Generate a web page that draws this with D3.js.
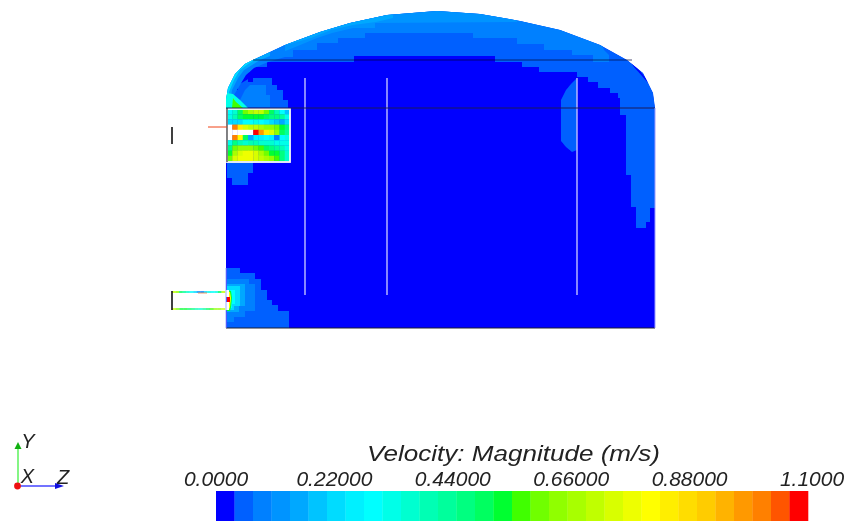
<!DOCTYPE html>
<html><head><meta charset="utf-8">
<script src="https://cdn.jsdelivr.net/npm/d3@7"></script>
<style>html,body{margin:0;padding:0;background:#fff}svg{display:block}
text{font-family:"Liberation Sans",sans-serif;font-style:italic;fill:#222}</style>
</head><body><svg id="c" width="847" height="521"></svg>
<script>
const bandColors=["#0000ff","#0060ff","#0080ff","#0094ff","#00a8ff","#00c4ff","#00dcff","#00f0ff","#00ffff","#00ffe8","#00ffd0","#00ffb4","#00ff9c","#00ff80","#00ff60","#00ff30",
"#40ff00","#70ff00","#90ff00","#a8ff00","#c0ff00","#d8ff00","#eeff00","#ffff00","#ffee00","#ffdd00","#ffcc00","#ffb300","#ff9900","#ff8000","#ff5500","#ff0000"];
const colorbarTicks=[0,0.22,0.44,0.66,0.88,1.1];
const colorbarTickLabels=["0.0000","0.22000","0.44000","0.66000","0.88000","1.1000"];
const colorbarTitle="Velocity: Magnitude (m/s)";
const tankOutline=[[0,0],[0,228],[2,240],[9,254],[19,264],[27,268],[59,283],[94,296],[124,305],[161,313],[211,317],[254,314],[294,307],[334,298],[374,283],[401,268],[417,255],[427,235],[429,220],[429,0]];
const band1Dome=[[14,256],[24,256],[24,261],[41,261],[41,266],[128,266],[128,272],[269,272],[269,266],[296,266],[296,261],[313,261],[313,256],[351,256],[351,251],[362,251],[362,246],[372,246],[372,240],[384,240],[384,235],[392,235],[392,230],[394,230],[394,213],[400,213],[400,153],[405,153],[405,121],[410,121],[410,100],[420,100],[420,106],[424,106],[424,120],[429,120],[440,120],[440,330],[14,330]];
const band2Dome=[[59,271],[67,271],[67,278],[91,278],[91,285],[112,285],[112,290],[139,290],[139,295],[247,295],[247,290],[291,290],[291,284],[318,284],[318,278],[346,278],[346,273],[367,273],[367,266],[383,266],[383,273],[378,278],[374,290],[374,330],[59,330]];
const band3Dome=[[57,276],[79,285],[91,290],[106,295],[127,300],[149,300],[149,305],[291,306],[291,330],[57,330]];
const band4Dome=[[60,283],[85,290],[105,298],[127,303],[150,306],[167,310],[167,330],[60,330]];
const band5Dome=[[30,270],[60,285],[80,295],[80,330],[30,330]];
const band0Tip=[[404,267],[414,257],[422,247],[426,238],[423,244],[416,252],[408,261]];
const rightBlob=[[351,250],[345,244],[340,238],[335,228],[335,187],[340,181],[346,176],[351,178]];
const topBlob=[[24,250],[46,250],[46,243],[51,243],[51,238],[57,238],[57,228],[62,228],[62,220],[6,220],[6,238],[12,238],[12,243]];
const topBlobCore=[[19,238],[24,243],[40,243],[40,233],[44,233],[44,221],[14,221],[14,228]];
const topSpot=[[22,251],[27,251],[27,246],[22,246]];
const belowBlob=[[1,166],[27,166],[27,155],[22,155],[22,143],[6,143],[6,150],[1,150]];
const wallA=[[8,220],[8,233],[14,243],[20,253],[28,260],[42,266],[59,271],[59,290],[-10,290],[-10,220]];
const wallB=[[4,223],[6,238],[12,250],[18,258],[26,263],[34,268],[44,272],[44,290],[-10,290],[-10,223]];
const wallC=[[2,223],[3,236],[8,248],[14,258],[22,264],[30,269],[30,290],[-10,290],[-10,223]];
const wallD=[[0,220],[22,220],[14,228],[7,234],[0,235]];
const wallE=[[6,220],[17,220],[10,226],[7,230]];
const outletBands=[
 {level:1,pts:[[1,60],[14,60],[14,55],[29,55],[29,49],[35,49],[35,38],[41,38],[41,28],[46,28],[46,23],[52,23],[52,17],[63,17],[63,0],[1,0]]},
 {level:2,pts:[[1,49],[23,49],[23,44],[29,44],[29,17],[19,17],[19,11],[8,11],[8,6],[1,6]]},
 {level:4,pts:[[1,44],[19,44],[19,22],[13,22],[13,16],[1,16]]},
 {level:6,pts:[[1,42],[14,42],[14,22],[8,22],[8,18],[1,18]]},
 {level:8,pts:[[1,38],[9,38],[9,24],[6,24],[6,20],[1,20]]},
 {level:15,pts:[[1,38],[5,37],[6,30],[5,21],[4,17],[1,17]]},
 {level:23,pts:[[1,37],[4,36],[5,30],[4,21],[3,18],[1,18]]},
 {level:31,pts:[[1,31],[4,31],[4,26],[1,26]]}
];
const outletWhite=[[[0,38],[3,38],[3,31],[0,31]],[[0,26],[3,26],[3,18],[0,18]]];
const inletCells=[
 [8,10,14,17,19,20,20,17,14,11,8,5],
 [9,11,14,15,15,15,15,14,13,13,12,9],
 [6,6,6,8,8,9,8,7,6,5,4,6],
 [null,29,24,21,20,20,19,18,18,17,15,13],
 [null,null,null,null,null,31,28,24,21,18,14,12],
 [null,29,23,14,4,7,7,8,7,2,8,9],
 [9,13,11,10,11,11,10,10,10,9,9,9],
 [13,17,18,18,18,17,16,14,13,12,11,9],
 [15,19,21,22,22,21,19,17,15,15,13,10],
 [17,21,22,22,22,21,20,19,18,16,13,10]
];
const inletTop=[20,18,14,12,10,8,6,3,2,6,9,8,9,14,20];
const inletBottom=[20,17,15,15,14,13,11,10,12,14,16,18,18,20];
const baffles=[79,161,351];

const svg=d3.select("#c");
const x=d3.scaleLinear().domain([0,429]).range([226,655]);
const y=d3.scaleLinear().domain([0,317]).range([328,11]);
const line=d3.line().x(d=>x(d[0])).y(d=>y(d[1]));
const poly=p=>line(p)+"Z";
const defs=svg.append("defs");
defs.append("clipPath").attr("id","tank").append("path").attr("d",poly(tankOutline));
defs.append("filter").attr("id","soft").append("feGaussianBlur").attr("stdDeviation",0.4);
const color=l=>bandColors[l];

const scene=svg.append("g").attr("filter","url(#soft)");
const field=scene.append("g").attr("clip-path","url(#tank)");
field.append("path").attr("d",poly(tankOutline)).attr("fill",color(0));
const layers=[[1,band1Dome],[2,band2Dome],[3,band3Dome],[4,band4Dome],[5,band5Dome],[0,band0Tip],[1,rightBlob],[1,topBlob],[2,topBlobCore],[0,topSpot],[1,belowBlob],[2,wallA],[4,wallB],[6,wallC],[9,wallD],[16,wallE]];
layers.forEach(([l,p])=>field.append("path").attr("d",poly(p)).attr("fill",color(l)));
outletBands.forEach(b=>field.append("path").attr("d",poly(b.pts)).attr("fill",color(b.level)));
outletWhite.forEach(p=>field.append("path").attr("d",poly(p)).attr("fill","#fff"));

// inlet cells
const cx=d3.scaleBand().domain(d3.range(12)).range([x(1),x(64)]);
const cy=d3.scaleBand().domain(d3.range(10)).range([y(219),y(167)]);
inletCells.forEach((row,r)=>row.forEach((v,c)=>{
 scene.append("rect").attr("x",cx(c)).attr("y",cy(r)).attr("width",cx.bandwidth()+.3).attr("height",cy.bandwidth()+.3).attr("fill",v==null?"#fff":color(v));
}));
scene.append("rect").attr("x",x(1)).attr("y",y(219)).attr("width",x(64)-x(1)).attr("height",y(166)-y(219)).attr("fill","none").attr("stroke","#f8f8f8").attr("stroke-width",1.8);
scene.append("line").attr("x1",x(1)).attr("x2",x(1)).attr("y1",y(220)).attr("y2",y(166)).attr("stroke","#666").attr("stroke-width",1.6);

// baffles
baffles.forEach(b=>scene.append("line").attr("x1",x(b)).attr("x2",x(b)).attr("y1",y(250)).attr("y2",y(33)).attr("stroke","#c0c0ff").attr("stroke-width",1.4));
// horizontal dark lines
scene.append("line").attr("x1",x(27)).attr("x2",x(406)).attr("y1",y(268)).attr("y2",y(268)).attr("stroke","#101040").attr("stroke-opacity",.7).attr("stroke-width",1.2);
scene.append("line").attr("x1",x(0)).attr("x2",x(429)).attr("y1",y(220)).attr("y2",y(220)).attr("stroke","#101040").attr("stroke-opacity",.85).attr("stroke-width",1.2);
scene.append("line").attr("x1",x(0)).attr("x2",x(429)).attr("y1",y(0)).attr("y2",y(0)).attr("stroke","#223").attr("stroke-width",1);
scene.append("line").attr("x1",x(429)).attr("x2",x(429)).attr("y1",y(0)).attr("y2",y(220)).attr("stroke","#9a9aff").attr("stroke-width",1);
scene.append("line").attr("x1",x(0)).attr("x2",x(0)).attr("y1",y(0)).attr("y2",y(60)).attr("stroke","#9ab0ff").attr("stroke-width",1);

// upper nozzle
scene.append("line").attr("x1",x(-54)).attr("x2",x(-54)).attr("y1",y(201)).attr("y2",y(184)).attr("stroke","#111").attr("stroke-width",1.6);
scene.append("line").attr("x1",x(-18)).attr("x2",x(1)).attr("y1",y(201)).attr("y2",y(201)).attr("stroke","#f04010").attr("stroke-width",1);
// lower nozzle
const segs=(arr,h,w)=>{const sx=d3.scaleBand().domain(d3.range(arr.length)).range([x(-54),x(-1)]);
 arr.forEach((l,i)=>scene.append("line").attr("x1",sx(i)).attr("x2",sx(i)+sx.bandwidth()+.2).attr("y1",y(h)).attr("y2",y(h)).attr("stroke",color(l)).attr("stroke-width",w));};
segs(inletTop,36,1.6);segs(inletBottom,19,1.4);
scene.append("line").attr("x1",x(-28)).attr("x2",x(-19)).attr("y1",y(35)).attr("y2",y(35)).attr("stroke","#f08040").attr("stroke-width",.8);
scene.append("line").attr("x1",x(-54)).attr("x2",x(-54)).attr("y1",y(37)).attr("y2",y(18)).attr("stroke","#111").attr("stroke-width",1.6);

// colour bar
const legendX=d3.scaleLinear().domain([0,1.1]).range([216,808]);
const legendBand=d3.scaleBand().domain(d3.range(bandColors.length)).range([216,808]);
svg.append("g").selectAll("rect").data(bandColors).join("rect")
 .attr("x",(d,i)=>legendBand(i)).attr("y",491).attr("width",legendBand.bandwidth()+.3).attr("height",30).attr("fill",d=>d);
const labels=svg.append("g").attr("filter","url(#soft)");
labels.selectAll("text.tick").data(colorbarTicks).join("text").attr("class","tick")
 .attr("x",d=>legendX(d)+(d===1.1?4:0)).attr("y",486).attr("text-anchor","middle").attr("font-size",21)
 .text((d,i)=>colorbarTickLabels[i]);
labels.append("text").attr("x",367).attr("y",461).attr("font-size",22).attr("textLength",293).attr("lengthAdjust","spacingAndGlyphs").text(colorbarTitle);

// orientation axes
svg.append("line").attr("x1",18).attr("x2",18).attr("y1",485).attr("y2",448).attr("stroke","#33ee33").attr("stroke-width",1.2);
svg.append("path").attr("d","M18,442L21.5,449L14.5,449Z").attr("fill","#10b010");
svg.append("line").attr("x1",18).attr("x2",56).attr("y1",486).attr("y2",486).attr("stroke","#4444ff").attr("stroke-width",1.5);
svg.append("path").attr("d","M64,486L55,483L55,489Z").attr("fill","#1010e0");
svg.append("circle").attr("cx",17.5).attr("cy",486).attr("r",3.4).attr("fill","#ee1111");
[["Y",28,448],["X",27.5,483],["Z",63,484]].forEach(([t,a,b])=>labels.append("text").attr("x",a).attr("y",b).attr("text-anchor","middle").attr("font-size",20).text(t));
</script></body></html>
